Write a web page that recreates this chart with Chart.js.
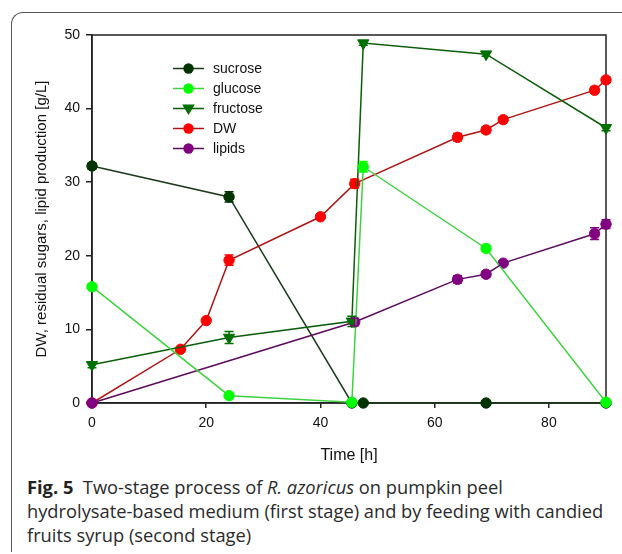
<!DOCTYPE html>
<html><head><meta charset="utf-8">
<script src="https://cdn.jsdelivr.net/npm/chart.js@4/dist/chart.umd.min.js"></script>
<style>
html,body{margin:0;padding:0;background:#fff;}
body{width:622px;height:554px;position:relative;overflow:hidden;}
#frame{position:absolute;left:11px;top:12px;width:700px;height:539px;border-left:1.5px solid #555;border-top:1.5px solid #555;border-top-left-radius:12px;}
#wrap{position:absolute;left:0;top:0;width:622px;height:470px;}
#cap{position:absolute;left:27px;top:475px;width:600px;white-space:nowrap;font-family:'Open Sans',sans-serif;font-size:18.3px;line-height:24px;color:#2a2a2a;}
#cap b{font-weight:700;color:#222;}
</style>
</head><body>
<div id="frame"></div>
<div id="wrap"><canvas id="c"></canvas></div>
<div id="cap"><b>Fig. 5</b>&nbsp; Two-stage process of <i>R. azoricus</i> on pumpkin peel<br>hydrolysate-based medium (first stage) and by feeding with candied<br>fruits syrup (second stage)</div>
<script>
// ---- data ----
const sucroseTime   = [0, 24, 45.5, 47.5, 69, 90];
const sucroseValues = [32.2, 28.0, 0, 0, 0, 0];
const sucroseErr    = [0.4, 0.7, 0, 0, 0, 0];

const glucoseTime   = [0, 24, 45.5, 47.5, 69, 90];
const glucoseValues = [15.8, 1.0, 0.1, 32.1, 21.0, 0.1];
const glucoseErr    = [0.3, 0.3, 0.2, 0.7, 0.4, 0.2];

const fructoseTime   = [0, 24, 45.5, 47.5, 69, 90];
const fructoseValues = [5.2, 8.9, 11.1, 48.9, 47.4, 37.4];
const fructoseErr    = [0.4, 0.8, 0.7, 0.3, 0.3, 0.4];

const dwTime   = [0, 15.5, 20, 24, 40, 46, 64, 69, 72, 88, 90];
const dwValues = [0, 7.3, 11.2, 19.4, 25.3, 29.8, 36.1, 37.1, 38.5, 42.5, 43.9];
const dwErr    = [0, 0, 0, 0.7, 0.3, 0.6, 0.5, 0.4, 0.4, 0.4, 0.4];

const lipidTime   = [0, 46, 64, 69, 72, 88, 90];
const lipidValues = [0, 11.0, 16.8, 17.5, 19.0, 23.0, 24.3];
const lipidErr    = [0.2, 0.5, 0.5, 0.4, 0.3, 0.8, 0.6];

const xTicks = [0, 20, 40, 60, 80];
const yTicks = [0, 10, 20, 30, 40, 50];
const seriesNames = ['sucrose', 'glucose', 'fructose', 'DW', 'lipids'];

const toXY = (t, v) => t.map((tt, i) => ({x: tt, y: v[i]}));
const FONT = "'Liberation Sans', Arial, sans-serif";

const series = [
  {name: seriesNames[0], t: sucroseTime, v: sucroseValues, e: sucroseErr, line: '#1b3a1b', fill: '#003300', style: 'circle', order: 4},
  {name: seriesNames[1], t: glucoseTime, v: glucoseValues, e: glucoseErr, line: '#3fd23f', fill: '#00ff00', style: 'circle', order: 0},
  {name: seriesNames[2], t: fructoseTime, v: fructoseValues, e: fructoseErr, line: '#0a5e0a', fill: '#007000', style: 'triangle', order: 1},
  {name: seriesNames[3], t: dwTime, v: dwValues, e: dwErr, line: '#b01515', fill: '#ff0000', style: 'circle', order: 3},
  {name: seriesNames[4], t: lipidTime, v: lipidValues, e: lipidErr, line: '#5e0a5e', fill: '#800080', style: 'circle', order: 2}
];

const datasets = series.map(s => ({
  label: s.name,
  data: toXY(s.t, s.v),
  borderColor: s.line,
  borderWidth: 1.5,
  backgroundColor: s.fill,
  pointBackgroundColor: s.fill,
  pointBorderColor: s.fill,
  pointBorderWidth: 1,
  pointRadius: s.style === 'triangle' ? 6.5 : 5.2,
  pointStyle: s.style,
  rotation: s.style === 'triangle' ? 180 : 0,
  tension: 0,
  clip: false,
  order: s.order
}));

function drawMarker(ctx, style, x, y, r, color) {
  ctx.save();
  ctx.fillStyle = color;
  ctx.beginPath();
  if (style === 'triangle') {
    ctx.moveTo(x - r * 1.15, y - r * 0.75);
    ctx.lineTo(x + r * 1.15, y - r * 0.75);
    ctx.lineTo(x, y + r * 1.2);
    ctx.closePath();
  } else {
    ctx.arc(x, y, r, 0, Math.PI * 2);
  }
  ctx.fill();
  ctx.restore();
}

const framePlugin = {
  id: 'frame',
  beforeDatasetsDraw(chart) {
    const {ctx, chartArea: a} = chart;
    ctx.save();
    ctx.strokeStyle = '#222';
    ctx.lineWidth = 1.5;
    ctx.strokeRect(a.left, a.top, a.right - a.left, a.bottom - a.top);
    ctx.restore();
  }
};

const errPlugin = {
  id: 'errbars',
  afterDatasetsDraw(chart) {
    const {ctx, scales: {x, y}} = chart;
    ctx.save();
    series.forEach(s => {
      ctx.strokeStyle = s.fill;
      ctx.lineWidth = 1.5;
      s.t.forEach((t, i) => {
        const e = s.e[i];
        if (!e) return;
        const px = x.getPixelForValue(t);
        const y1 = y.getPixelForValue(s.v[i] + e);
        const y2 = y.getPixelForValue(Math.max(0, s.v[i] - e));
        ctx.beginPath();
        ctx.moveTo(px, y1); ctx.lineTo(px, y2);
        ctx.moveTo(px - 4.5, y1); ctx.lineTo(px + 4.5, y1);
        ctx.moveTo(px - 4.5, y2); ctx.lineTo(px + 4.5, y2);
        ctx.stroke();
      });
    });
    ctx.restore();
  }
};

const legendPlugin = {
  id: 'customLegend',
  afterDraw(chart) {
    const {ctx} = chart;
    ctx.save();
    ctx.font = '14px ' + FONT;
    ctx.textBaseline = 'middle';
    ctx.textAlign = 'left';
    series.forEach((s, i) => {
      const yy = 68.5 + i * 20;
      ctx.strokeStyle = s.line;
      ctx.lineWidth = 1.5;
      ctx.beginPath();
      ctx.moveTo(173, yy); ctx.lineTo(204, yy);
      ctx.stroke();
      drawMarker(ctx, s.style, 188.5, yy, s.style === 'triangle' ? 5.5 : 5.2, s.fill);
      ctx.fillStyle = '#111';
      ctx.fillText(s.name, 213, yy + 1);
    });
    ctx.restore();
  }
};

new Chart(document.getElementById('c'), {
  type: 'line',
  data: {datasets},
  options: {
    responsive: true,
    maintainAspectRatio: false,
    animation: false,
    layout: {padding: {left: 0, top: 35, right: 16, bottom: 0}},
    plugins: {legend: {display: false}, tooltip: {enabled: false}},
    scales: {
      x: {
        type: 'linear', min: 0, max: 90,
        afterFit: s => { s.height = 67; },
        afterBuildTicks: s => { s.ticks = xTicks.map(v => ({value: v})); },
        ticks: {color: '#111', font: {family: FONT, size: 14}, padding: 7, includeBounds: false},
        grid: {drawOnChartArea: false, drawTicks: true, tickLength: 5, color: '#222', lineWidth: 1.5},
        border: {display: true, color: '#222', width: 1.5},
        title: {display: true, text: 'Time [h]', color: '#111', font: {family: FONT, size: 16}, padding: {top: 0, bottom: 5}}
      },
      y: {
        type: 'linear', min: 0, max: 50,
        afterFit: s => { s.width = 92; },
        afterBuildTicks: s => { s.ticks = yTicks.map(v => ({value: v})); },
        ticks: {color: '#111', font: {family: FONT, size: 14}, padding: 6},
        grid: {drawOnChartArea: false, drawTicks: true, tickLength: 6, color: '#222', lineWidth: 1.5},
        border: {display: true, color: '#222', width: 1.5},
        title: {display: true, text: 'DW, residual sugars, lipid production [g/L]', color: '#111', font: {family: FONT, size: 15}, padding: {top: 33, bottom: 0}}
      }
    }
  },
  plugins: [framePlugin, errPlugin, legendPlugin]
});
</script>
</body></html>
